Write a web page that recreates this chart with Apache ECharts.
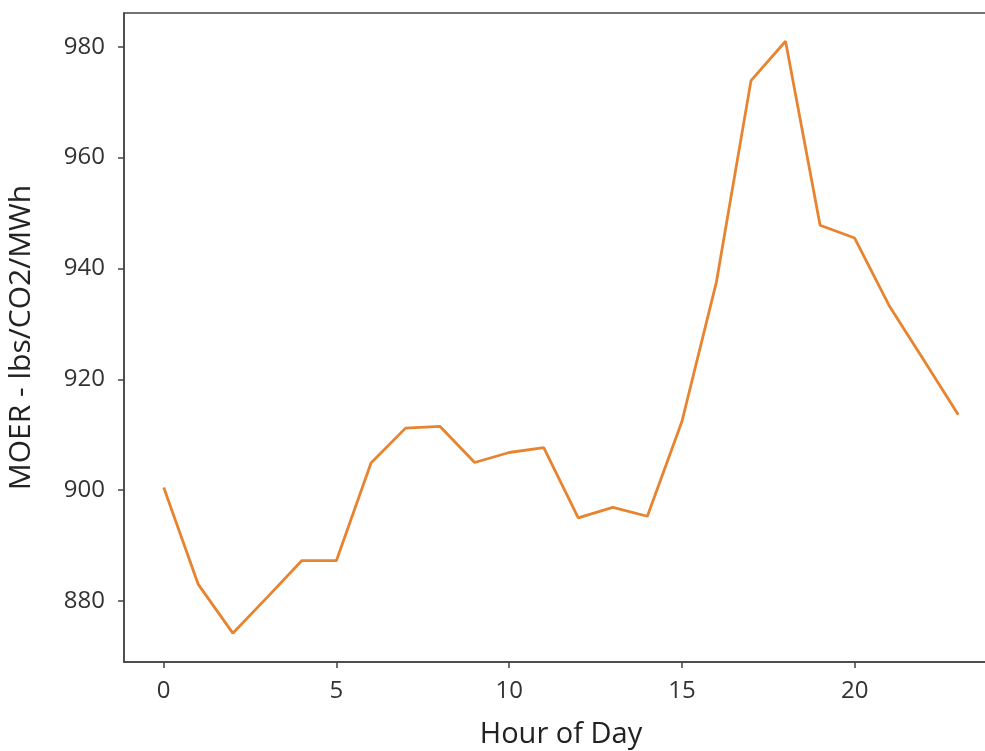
<!DOCTYPE html>
<html>
	<head>
		<meta charset="utf-8">
		<title></title>
		<script src="https://cdn.jsdelivr.net/npm/echarts@6/dist/echarts.min.js"></script>
	</head>

	<body style="margin: 0; background: #fff;">
		<div id="main" style="width: 985px; height: 751px;"></div>
		<script type="text/javascript">
			// hourly marginal emissions
			var hours = [0, 1, 2, 3, 4, 5, 6, 7, 8, 9, 10, 11, 12, 13, 14, 15, 16, 17, 18, 19, 20, 21, 22, 23];
			var moer = [900.5, 883.0, 874.2, 880.7, 887.3, 887.3, 904.9, 911.2, 911.5, 905.0, 906.8, 907.7,
				895.0, 896.9, 895.3, 912.4, 937.6, 973.9, 981.0, 947.8, 945.5, 933.3, 923.5, 913.6];
			var xTicks = [0, 5, 10, 15, 20];
			var yTicks = [880, 900, 920, 940, 960, 980];

			var points = hours.map(function (h, i) { return [h, moer[i]]; });

			var myChart = echarts.init(document.getElementById("main"));
			var option = {
				animation: false,
				grid: {
					left: 124,
					top: 13,
					width: 874,
					height: 649,
					outerBoundsMode: 'none',
					show: true,
					borderColor: '#444',
					borderWidth: 1.5
				},
				xAxis: {
					type: 'value',
					min: -1.15,
					max: 24.15,
					name: 'Hour of Day',
					nameLocation: 'middle',
					nameGap: 58,
					nameTextStyle: { fontFamily: 'Open Sans', fontSize: 29, color: '#222' },
					splitLine: { show: false },
					axisLine: { onZero: false, lineStyle: { color: '#444', width: 1.5 } },
					axisTick: { customValues: xTicks, length: 6, lineStyle: { color: '#444', width: 1.5 } },
					axisLabel: { customValues: xTicks, margin: 17, fontFamily: 'Open Sans', fontSize: 24, color: '#333' }
				},
				yAxis: {
					type: 'value',
					min: 869,
					max: 986.1,
					name: 'MOER - lbs/CO2/MWh',
					nameLocation: 'middle',
					nameGap: 88,
					nameTextStyle: { fontFamily: 'Open Sans', fontSize: 30, color: '#222' },
					splitLine: { show: false },
					axisLine: { show: true, onZero: false, lineStyle: { color: '#444', width: 1.5 } },
					axisTick: { show: true, customValues: yTicks, length: 6, lineStyle: { color: '#444', width: 1.5 } },
					axisLabel: { customValues: yTicks, margin: 19, fontFamily: 'Open Sans', fontSize: 24, color: '#333' }
				},
				series: [
					{
						type: 'line',
						data: points,
						showSymbol: false,
						lineStyle: { color: '#e8832f', width: 2.8 }
					}
				]
			};
			myChart.setOption(option);
		</script>
	</body>
</html>
